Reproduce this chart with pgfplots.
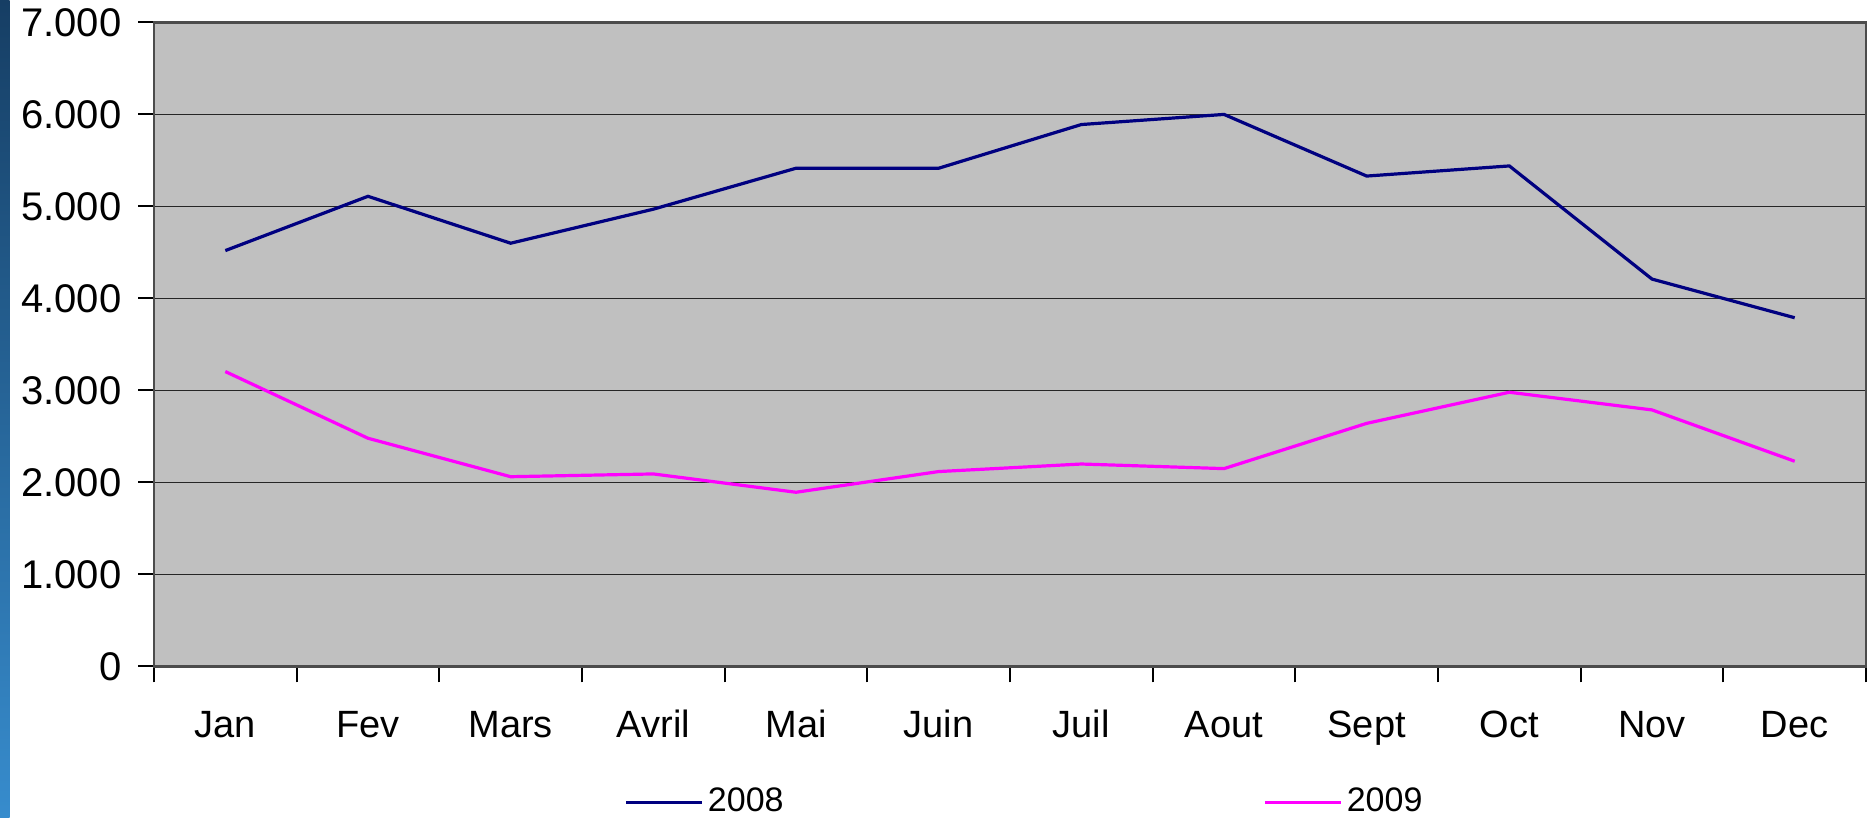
\documentclass[border=0pt]{standalone}
\usepackage{fontspec}
\setmainfont{Liberation Sans}
\usepackage{pgfplots}
\pgfplotsset{compat=1.18}
\definecolor{navyline}{RGB}{0,0,128}
\definecolor{magline}{RGB}{255,0,255}
\definecolor{plotbg}{RGB}{192,192,192}
\definecolor{stripA}{RGB}{22,62,100}
\definecolor{stripB}{RGB}{55,140,205}
\begin{document}
\begin{tikzpicture}
\path[use as bounding box] (0,0) rectangle (467.5pt,204.25pt);
\shade[top color=stripA, bottom color=stripB] (0,0) rectangle (2.4pt,204.25pt);
\begin{axis}[
  at={(38.5pt,37.65pt)}, anchor=south west,
  scale only axis, width=428pt, height=161pt,
  xmin=-0.5, xmax=11.5, ymin=0, ymax=7000,
  axis background/.style={fill=plotbg},
  axis line style={black!70, line width=0.6pt},
  tick align=outside, major tick length=4pt,
  xtick pos=bottom, ytick pos=left,
  tick style={black, line width=0.5pt},
  xtick={-0.5,0.5,...,11.5}, xticklabel=\empty,
  extra x ticks={0,1,2,3,4,5,6,7,8,9,10,11},
  extra x tick labels={Jan,Fev,Mars,Avril,Mai,Juin,Juil,Aout,Sept,Oct,Nov,Dec},
  extra x tick style={major tick length=0pt, xticklabel style={anchor=base, yshift=-17.8pt}},
  ytick={0,1000,...,7000},
  ymajorgrids, grid style={black!85, line width=0.4pt},
  /pgf/number format/.cd, 1000 sep={.}, assume math mode=true, /pgfplots/.cd,
  scaled y ticks=false,
  yticklabel style={anchor=east, xshift=-0.6pt, font=\fontsize{10}{12}\selectfont},
  xticklabel style={font=\fontsize{9.5}{11}\selectfont},
  legend columns=2,
  legend cell align=left,
  legend image code/.code={\draw[#1] (0pt,0pt) -- (19pt,0pt);},
  legend style={at={(0.2745,-0.2115)}, anchor=west, draw=none, fill=none,
    font=\fontsize{8.5}{10}\selectfont, inner sep=0pt,
    nodes={inner sep=1pt},
    /tikz/every even column/.append style={column sep=119pt}},
]
\addplot[navyline, line width=0.8pt] coordinates {
(0,4520) (1,5110) (2,4600) (3,4970) (4,5415) (5,5415) (6,5890) (7,6000) (8,5330) (9,5440) (10,4210) (11,3790)};
\addlegendentry{2008}
\addplot[magline, line width=0.8pt] coordinates {
(0,3205) (1,2480) (2,2062) (3,2092) (4,1893) (5,2118) (6,2200) (7,2150) (8,2642) (9,2980) (10,2788) (11,2230)};
\addlegendentry{2009}
\end{axis}
\end{tikzpicture}
\end{document}
